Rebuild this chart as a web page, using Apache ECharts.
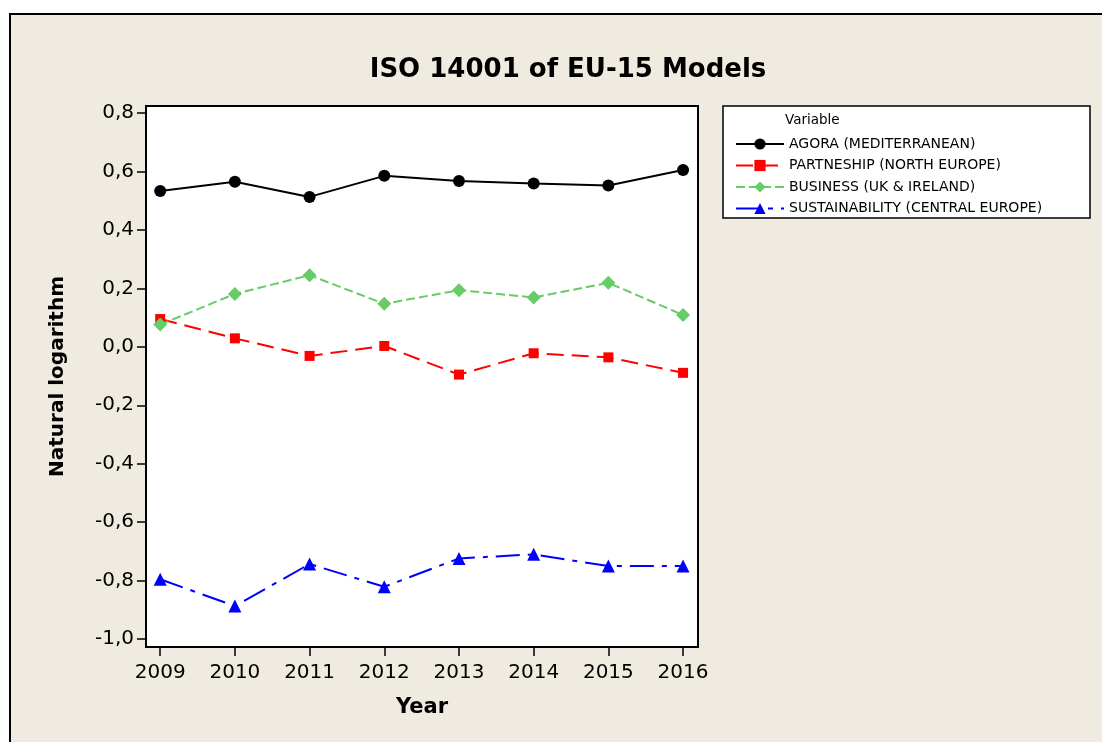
<!DOCTYPE html>
<html>
<head>
<meta charset="utf-8">
<script src="https://cdn.jsdelivr.net/npm/echarts@6/dist/echarts.min.js"></script>
<style>
  html, body { margin: 0; padding: 0; background: #fff; }
  #main { width: 1102px; height: 742px; }
</style>
</head>
<body>
<div id="main"></div>
<script>
'use strict';

// data
var years = [2009, 2010, 2011, 2012, 2013, 2014, 2015, 2016];
var yTicks = [-1.0, -0.8, -0.6, -0.4, -0.2, 0.0, 0.2, 0.4, 0.6, 0.8];
var agora = [0.533, 0.565, 0.513, 0.585, 0.567, 0.559, 0.552, 0.605];
var partnership = [0.095, 0.029, -0.031, 0.003, -0.095, -0.022, -0.036, -0.089];
var business = [0.076, 0.181, 0.245, 0.147, 0.194, 0.169, 0.219, 0.109];
var sustainability = [-0.795, -0.887, -0.743, -0.821, -0.724, -0.710, -0.750, -0.750];

var FONT = 'DejaVu Sans';

function pairs(vals) {
    return years.map(function (y, i) { return [y, vals[i]]; });
}

var myChart = echarts.init(document.getElementById('main'));

var option = {
    backgroundColor: '#ffffff',
    textStyle: { fontFamily: FONT },
    graphic: [
        {
            type: 'rect', z: -10, silent: true,
            shape: { x: 10, y: 14, width: 1110, height: 760 },
            style: { fill: '#EFEBE1', stroke: '#000', lineWidth: 2 }
        },
        {
            type: 'rect', z: 5, silent: true,
            shape: { x: 723, y: 106, width: 367, height: 112 },
            style: { fill: '#fff', stroke: '#000', lineWidth: 1.5 }
        },
        {
            type: 'text', z: 6, silent: true,
            left: 785, top: 113,
            style: { text: 'Variable', font: '13.5px ' + FONT, fill: '#000' }
        }
    ],
    title: {
        text: 'ISO 14001 of EU-15 Models',
        left: 563, top: 52, textAlign: 'center',
        textStyle: { fontFamily: FONT, fontSize: 26, fontWeight: 'bold', color: '#000' }
    },
    legend: {
        orient: 'vertical',
        left: 730, top: 132,
        itemGap: 7.5,
        itemWidth: 48, itemHeight: 14,
        z: 10,
        textStyle: { fontFamily: FONT, fontSize: 14, color: '#000', padding: [0, 0, 0, 0] },
        data: ['AGORA (MEDITERRANEAN)', 'PARTNESHIP (NORTH EUROPE)', 'BUSINESS (UK & IRELAND)', 'SUSTAINABILITY (CENTRAL EUROPE)']
    },
    grid: {
        left: 146, top: 106, right: 404, bottom: 95,
        show: true, backgroundColor: '#fff', borderColor: '#000', borderWidth: 2
    },
    xAxis: {
        type: 'value',
        min: 2008.81, max: 2016.2,
        name: 'Year',
        nameLocation: 'middle',
        nameGap: 50,
        nameTextStyle: { fontFamily: FONT, fontSize: 21, fontWeight: 'bold', color: '#000' },
        axisLine: { show: false, onZero: false },
        splitLine: { show: false },
        axisTick: { show: true, length: 9, customValues: years, lineStyle: { color: '#000', width: 1.5 } },
        axisLabel: { customValues: years, fontSize: 20, color: '#000', margin: 16, formatter: function (v) { return String(v); } }
    },
    yAxis: {
        type: 'value',
        min: -1.027, max: 0.824,
        name: 'Natural logarithm',
        nameLocation: 'middle',
        nameGap: 78,
        nameRotate: 90,
        nameTextStyle: { fontFamily: FONT, fontSize: 20, fontWeight: 'bold', color: '#000' },
        axisLine: { show: false, onZero: false },
        splitLine: { show: false },
        axisTick: { show: true, length: 9, customValues: yTicks, lineStyle: { color: '#000', width: 1.5 } },
        axisLabel: {
            customValues: yTicks, fontSize: 20, color: '#000', margin: 12,
            formatter: function (v) { return (Math.round(v * 10) / 10).toFixed(1).replace('.', ','); }
        }
    },
    series: [
        {
            name: 'AGORA (MEDITERRANEAN)', type: 'line', data: pairs(agora),
            symbol: 'circle', symbolSize: 12,
            itemStyle: { color: '#000' },
            lineStyle: { color: '#000', width: 2, type: 'solid' }
        },
        {
            name: 'PARTNESHIP (NORTH EUROPE)', type: 'line', data: pairs(partnership),
            symbol: 'rect', symbolSize: 10,
            itemStyle: { color: '#FF0000' },
            lineStyle: { color: '#FF0000', width: 2, type: [17, 8] }
        },
        {
            name: 'BUSINESS (UK & IRELAND)', type: 'line', data: pairs(business),
            symbol: 'diamond', symbolSize: 14,
            itemStyle: { color: '#66CC66' },
            lineStyle: { color: '#66CC66', width: 2, type: [9, 4] }
        },
        {
            name: 'SUSTAINABILITY (CENTRAL EUROPE)', type: 'line', data: pairs(sustainability),
            symbol: 'triangle', symbolSize: 13,
            itemStyle: { color: '#0000FF' },
            lineStyle: { color: '#0000FF', width: 2, type: [24, 8, 5, 8] }
        }
    ]
};

myChart.setOption(option);
</script>
</body>
</html>
